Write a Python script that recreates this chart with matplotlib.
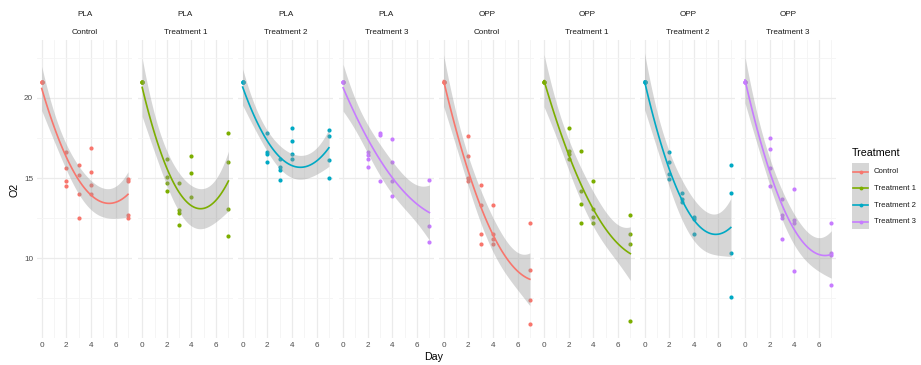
import numpy as np
import matplotlib
matplotlib.use('Agg')
import matplotlib.pyplot as plt
from matplotlib.patches import Rectangle
from matplotlib.lines import Line2D

plt.rcParams['font.family'] = ['Liberation Sans', 'DejaVu Sans']

# facets: (material, treatment)
materials = ['PLA', 'PLA', 'PLA', 'PLA', 'OPP', 'OPP', 'OPP', 'OPP']
treatments = ['Control', 'Treatment 1', 'Treatment 2', 'Treatment 3',
              'Control', 'Treatment 1', 'Treatment 2', 'Treatment 3']
treat_names = ['Control', 'Treatment 1', 'Treatment 2', 'Treatment 3']
treat_colors = ['#F8766D', '#7CAE00', '#00A9C4', '#C77CFF']

# day -> O2 readings, one dict per facet (day 0 replicates all read 21)
pla_control = {0: [21.0, 21.0, 21.0, 21.0], 2: [16.6, 15.6, 14.8, 14.5], 3: [15.8, 15.2, 14.0, 12.5],
               4: [16.9, 15.4, 14.6, 14.0], 7: [14.95, 14.8, 12.7, 12.5]}
pla_t1 = {0: [21.0, 21.0, 21.0, 21.0], 2: [16.2, 15.1, 14.7, 14.2], 3: [14.7, 13.0, 12.85, 12.1],
          4: [16.4, 15.3, 13.8], 7: [17.8, 16.0, 13.1, 11.4]}
pla_t2 = {0: [21.0, 21.0, 21.0, 21.0], 2: [17.8, 16.6, 16.5, 16.0], 3: [16.2, 15.7, 15.5, 14.9],
          4: [18.1, 17.3, 16.5, 16.2], 7: [18.0, 17.6, 16.1, 15.0]}
pla_t3 = {0: [21.0, 21.0, 21.0, 21.0], 2: [16.6, 16.45, 16.2, 15.7], 3: [17.8, 17.7, 14.8],
          4: [17.45, 16.0, 14.8, 13.9], 7: [14.9, 12.0, 11.0]}
opp_control = {0: [21.0, 21.0, 21.0, 21.0], 2: [17.6, 16.4, 15.0, 14.8], 3: [14.6, 13.3, 11.5, 10.9],
               4: [13.3, 11.5, 11.2, 10.9], 7: [12.2, 9.25, 7.4, 5.9]}
opp_t1 = {0: [21.0, 21.0, 21.0, 21.0], 2: [18.1, 16.7, 16.5, 16.2], 3: [16.7, 14.2, 13.4, 12.2],
          4: [14.8, 13.1, 12.6, 12.2], 7: [12.7, 11.5, 10.9, 6.1]}
opp_t2 = {0: [21.0, 21.0, 21.0, 21.0], 2: [16.6, 16.0, 15.25, 14.95], 3: [14.1, 13.7, 13.5],
          4: [12.6, 12.45, 11.5], 7: [15.8, 14.1, 10.3, 7.6]}
opp_t3 = {0: [21.0, 21.0, 21.0, 21.0], 2: [17.5, 16.8, 15.6, 14.5], 3: [13.7, 12.7, 12.5, 11.2],
          4: [14.3, 12.4, 12.2, 9.2], 7: [12.2, 10.3, 10.2, 8.3]}
facet_data = [pla_control, pla_t1, pla_t2, pla_t3, opp_control, opp_t1, opp_t2, opp_t3]

# two-sided 95% t quantiles
t975 = {12: 2.179, 13: 2.160, 14: 2.145, 15: 2.131, 16: 2.120, 17: 2.110, 18: 2.101, 19: 2.093}


def flatten(d):
	x = []
	y = []
	for day, vals in d.items():
		x += [day] * len(vals)
		y += vals
	return np.array(x, float), np.array(y, float)


def quad_smooth(x, y, grid):
	X = np.column_stack([np.ones_like(x), x, x ** 2])
	beta, _, _, _ = np.linalg.lstsq(X, y, rcond=None)
	res = y - X @ beta
	dof = len(x) - 3
	s2 = (res @ res) / dof
	cov = np.linalg.inv(X.T @ X)
	G = np.column_stack([np.ones_like(grid), grid, grid ** 2])
	fit = G @ beta
	se = np.sqrt(s2 * np.einsum('ij,jk,ik->i', G, cov, G))
	t = t975.get(dof, 2.1)
	return fit, fit - t * se, fit + t * se


W, H = 921, 365
fig = plt.figure(figsize=(W / 100, H / 100), dpi=100)

left0 = 37.4
pw = 94.9
step = 100.47
top_px, bot_px = 40, 338
ylo, yhi = 5.02, 23.62

grid_major = '#EBEBEB'
grid_minor = '#F4F4F4'
txt_col = '#1A1A1A'
tick_col = '#4D4D4D'

for i in range(8):
	ax = fig.add_axes([(left0 + i * step) / W, (H - bot_px) / H, pw / W, (bot_px - top_px) / H])
	col = treat_colors[treat_names.index(treatments[i])]
	x, y = flatten(facet_data[i])
	grid = np.linspace(0, 7, 80)
	fit, lo, hi = quad_smooth(x, y, grid)
	# points first, then the smooth ribbon over them (ggplot layer order)
	ax.scatter(x, y, s=9, color=col, lw=0, zorder=2)
	ax.fill_between(grid, lo, hi, color='#999999', alpha=0.4, lw=0, zorder=3)
	ax.plot(grid, fit, color=col, lw=1.2, zorder=4)

	ax.set_xlim(-0.35, 7.35)
	ax.set_ylim(ylo, yhi)
	ax.set_xticks([0, 2, 4, 6])
	ax.set_xticks([1, 3, 5, 7], minor=True)
	ax.set_yticks([10, 15, 20])
	ax.set_yticks([7.5, 12.5, 17.5, 22.5], minor=True)
	ax.grid(which='major', color=grid_major, lw=0.9, zorder=0)
	ax.grid(which='minor', color=grid_minor, lw=0.6, zorder=0)
	ax.set_axisbelow(True)
	for s in ax.spines.values():
		s.set_visible(False)
	ax.tick_params(which='both', length=0, labelsize=5.9, labelcolor=tick_col, pad=3)
	if i > 0:
		ax.set_yticklabels([])
	ax.annotate(materials[i], (0.5, 1), xycoords='axes fraction', xytext=(0, 18),
				textcoords='offset points', ha='center', va='center', fontsize=5.9, color=txt_col)
	ax.annotate(treatments[i], (0.5, 1), xycoords='axes fraction', xytext=(0, 5.3),
				textcoords='offset points', ha='center', va='center', fontsize=5.9, color=txt_col)

fig.text(15 / W, 1 - 190 / H, 'O2', rotation=90, ha='center', va='center', fontsize=7.7, color='black')
fig.text(434 / W, 1 - 357 / H, 'Day', ha='center', va='center', fontsize=7.7, color='black')

# legend
lax = fig.add_axes([0, 0, 1, 1])
lax.set_xlim(0, W)
lax.set_ylim(H, 0)
lax.axis('off')
lax.text(852, 153, 'Treatment', ha='left', va='center', fontsize=7.7, color='black')
lax.add_patch(Rectangle((852, 163), 17, 66, color='#D6D6D6', lw=0))
for k, (name, c) in enumerate(zip(treat_names, treat_colors)):
	yk = 171.7 + k * 16.7
	lax.add_line(Line2D([853, 868], [yk, yk], color=c, lw=1.2))
	lax.plot([860.5], [yk], 'o', color=c, ms=2.8, mew=0)
	lax.text(874, yk, name, ha='left', va='center', fontsize=5.6, color=txt_col)

fig.savefig('out.png', dpi=100, facecolor='white')
